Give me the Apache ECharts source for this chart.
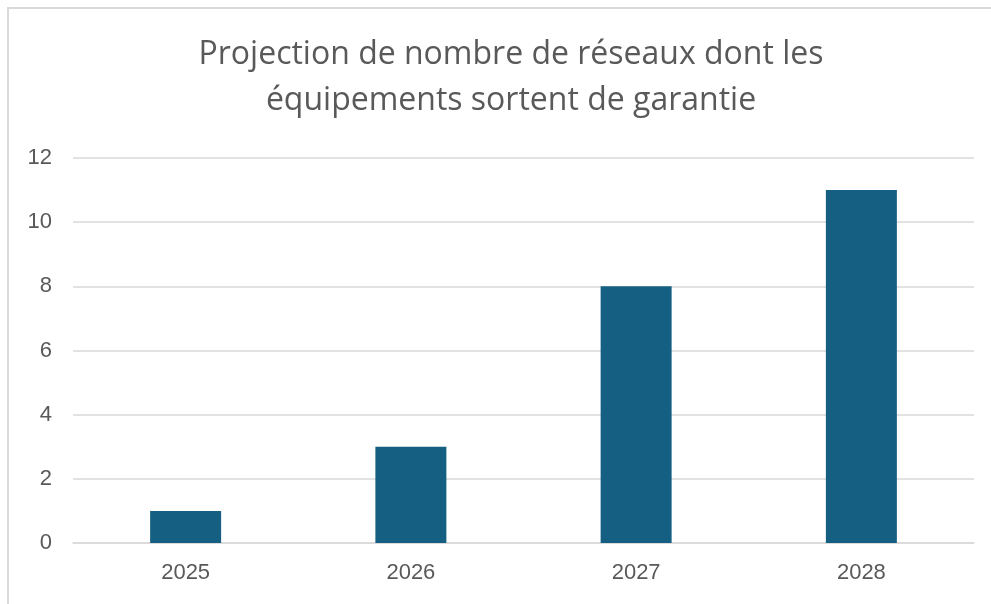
<!DOCTYPE html>
<html>
<head>
<meta charset="utf-8">
<script src="https://cdn.jsdelivr.net/npm/echarts@6/dist/echarts.min.js"></script>
<style>
html,body{margin:0;padding:0;background:#fff;}
#chart{width:991px;height:604px;}
</style>
</head>
<body>
<div id="chart"></div>
<script>
const categories = ['2025', '2026', '2027', '2028'];
const values = [1, 3, 8, 11];
const titleText = 'Projection de nombre de réseaux dont les\néquipements sortent de garantie';

const chart = echarts.init(document.getElementById('chart'), null, {renderer: 'canvas'});
chart.setOption({
  animation: false,
  backgroundColor: '#ffffff',
  graphic: [{
    type: 'rect',
    silent: true,
    shape: {x: 8, y: 8, width: 1200, height: 800},
    style: {fill: 'none', stroke: '#d9d9d9', lineWidth: 2}
  }],
  title: {
    text: titleText,
    left: 506,
    top: 27,
    textAlign: 'center',
    textStyle: {
      fontFamily: 'Open Sans',
      fontSize: 32,
      fontWeight: 'normal',
      color: '#595959',
      lineHeight: 46
    }
  },
  grid: {left: 73, right: 17, top: 158, bottom: 61, containLabel: false},
  xAxis: {
    type: 'category',
    data: categories,
    axisLine: {show: true, lineStyle: {color: '#d9d9d9', width: 1.5}},
    axisTick: {show: false},
    axisLabel: {color: '#595959', fontFamily: 'Liberation Sans', fontSize: 22, margin: 19}
  },
  yAxis: {
    type: 'value',
    min: 0,
    max: 12,
    interval: 2,
    axisLine: {show: false},
    axisTick: {show: false},
    splitLine: {lineStyle: {color: '#d9d9d9', width: 1.5}},
    axisLabel: {color: '#595959', fontFamily: 'Liberation Sans', fontSize: 22, margin: 21}
  },
  series: [{
    type: 'bar',
    data: values,
    barWidth: 71,
    itemStyle: {color: '#156082'}
  }]
});
</script>
</body>
</html>
